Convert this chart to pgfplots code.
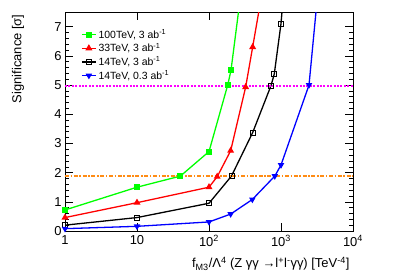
\documentclass[border=0pt]{standalone}
\usepackage{pgfplots}
\pgfplotsset{compat=1.18}
\usepackage{fontspec}
\setmainfont{Liberation Sans}
\definecolor{rgreen}{RGB}{0,255,0}
\definecolor{rred}{RGB}{255,0,0}
\definecolor{rblue}{RGB}{0,0,255}
\definecolor{rmag}{RGB}{255,0,255}
\definecolor{rorange}{RGB}{255,140,20}
\begin{document}
\begin{tikzpicture}
\path[use as bounding box] (-65bp,-45bp) rectangle (342bp,231bp);
\begin{axis}[
  at={(0,0)}, anchor=origin,
  scale only axis, width=288bp, height=219bp,
  xmode=log, xmin=1, xmax=10000, ymin=0, ymax=7.5,
  log basis x=10,
  xtick={1,10,100,1000,10000},
  xticklabels={1,10,10\textsuperscript{2},10\textsuperscript{3},10\textsuperscript{4}},
  ytick={0,1,2,3,4,5,6,7},
  minor y tick num=4,
  tick align=inside,
  major tick length=8bp, minor tick length=4bp,
  every tick/.style={black, line width=0.5pt},
  axis line style={line width=0.6pt},
  /pgf/number format/assume math mode=true,
  tick label style={font=\fontsize{13}{15}\selectfont},
  xticklabel style={yshift=-1bp},
  clip=true,
  legend cell align=left,
  legend style={draw=none, fill=none, at={(axis description cs:0.045,0.94)}, anchor=north west,
    font=\fontsize{10.5}{12}\selectfont, row sep=-0.8bp,
    legend image code/.code={\draw[mark repeat=2,mark phase=2] plot coordinates {(0cm,0cm) (0.25cm,0cm) (0.5cm,0cm)};}},
]
\addplot[rgreen, line width=1.3pt, mark=square*, mark size=2.3bp, mark options={solid}] coordinates {
 (1,0.72) (10,1.5) (40,1.88) (100,2.72) (182,5.0) (202,5.5) (300,8.8)};
\addlegendentry{100TeV, 3 ab\textsuperscript{-1}}
\addplot[rred, line width=1.3pt, mark=triangle*, mark size=2.8bp, mark options={solid}] coordinates {
 (1,0.46) (10,0.97) (100,1.5) (130,1.86) (200,2.75) (323,4.93) (404,6.3) (550,8.2)};
\addlegendentry{33TeV, 3 ab\textsuperscript{-1}}
\addplot[black, line width=1.3pt, mark=square, mark size=2.5bp, mark options={solid, line width=0.6pt}] coordinates {
 (1,0.2) (10,0.46) (100,0.95) (205,1.88) (404,3.37) (727,4.98) (807,5.38) (1000,7.1) (1100,8.3)};
\addlegendentry{14TeV, 3 ab\textsuperscript{-1}}
\addplot[rblue, line width=1.3pt, mark=triangle*, mark size=2.5bp, mark options={solid, rotate=180}] coordinates {
 (1,0.08) (10,0.16) (100,0.31) (200,0.58) (400,1.08) (820,1.88) (1000,2.26) (2450,5.0) (3200,8.0)};
\addlegendentry{14TeV, 0.3 ab\textsuperscript{-1}}
\addplot[rmag, line width=2bp, dash pattern=on 2bp off 1.4bp, forget plot] coordinates {(1,4.98) (10000,4.98)};
\addplot[rorange, line width=2bp, dash pattern=on 4bp off 1.6bp on 1.6bp off 1.6bp, forget plot] coordinates {(1,1.9) (10000,1.9)};
\end{axis}
\node[rotate=90, anchor=east, font=\fontsize{13}{15}\selectfont] at (-47bp,220bp) {Significance [σ]};
\node[anchor=east, font=\fontsize{13}{15}\selectfont] at (288bp,-33bp) {f\textsubscript{M3}/Λ\textsuperscript{4} (Z γγ →l\textsuperscript{+}l\textsuperscript{-}γγ) [TeV\textsuperscript{-4}]};
\end{tikzpicture}
\end{document}
